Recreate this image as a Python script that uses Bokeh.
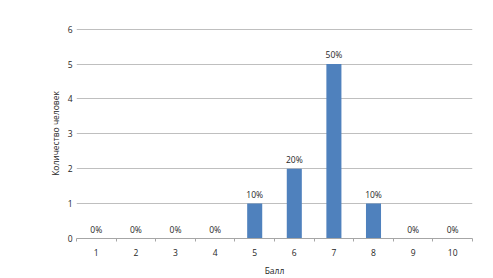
from bokeh.plotting import figure
from bokeh.models import ColumnDataSource, FixedTicker, Range1d
from bokeh.embed import file_html
from bokeh.resources import INLINE
from bokeh.core.properties import value

categories = ["1", "2", "3", "4", "5", "6", "7", "8", "9", "10"]
counts = [0, 0, 0, 0, 1, 2, 5, 1, 0, 0]
percent_labels = ["0%", "0%", "0%", "0%", "10%", "20%", "50%", "10%", "0%", "0%"]
y_ticks = [0, 1, 2, 3, 4, 5, 6]
x_title = "Балл"
y_title = "Количество человек"

xs = [i + 1 for i in range(len(categories))]
src = ColumnDataSource(dict(x=xs, top=counts, lab=percent_labels))

FONT = "Open Sans"
TXT = "#262626"

p = figure(width=493, height=278, output_backend="svg", toolbar_location=None,
           x_range=Range1d(0.5, len(categories) + 0.5), y_range=Range1d(0, 6.02),
           min_border_left=76, min_border_right=21, min_border_top=28, min_border_bottom=39)
p.outline_line_color = None
p.background_fill_color = "white"
p.border_fill_color = "white"

p.vbar(x="x", top="top", width=0.38, bottom=0, source=src,
       fill_color="#4f81bd", line_color=None)
p.text(x="x", y="top", text="lab", source=src, text_align="center", text_baseline="bottom",
       y_offset=-4, text_font=value(FONT), text_font_size="8.5px", text_color=TXT)

# grid
p.xgrid.grid_line_color = None
p.ygrid.grid_line_color = "#bfbfbf"
p.ygrid.grid_line_width = 1
p.yaxis.ticker = FixedTicker(ticks=y_ticks)

# x axis
p.xaxis.ticker = FixedTicker(ticks=xs, minor_ticks=[x - 0.5 for x in xs] + [xs[-1] + 0.5])
p.xaxis.major_label_overrides = {x: c for x, c in zip(xs, categories)}
p.xaxis.major_tick_line_color = None
p.xaxis.major_tick_out = 0
p.xaxis.major_tick_in = 0
p.xaxis.minor_tick_line_color = "#a6a6a6"
p.xaxis.minor_tick_out = 3
p.xaxis.minor_tick_in = 0
p.xaxis.axis_line_color = "#a6a6a6"
p.xaxis.major_label_standoff = 7
p.xaxis.axis_label = x_title
p.xaxis.axis_label_standoff = 6

# y axis
p.yaxis.axis_line_color = None
p.yaxis.major_tick_line_color = None
p.yaxis.major_tick_out = 0
p.yaxis.major_tick_in = 0
p.yaxis.minor_tick_line_color = None
p.yaxis.major_label_standoff = 4
p.yaxis.axis_label = y_title
p.yaxis.axis_label_standoff = 4

for ax in (p.xaxis, p.yaxis):
    ax.major_label_text_font = FONT
    ax.major_label_text_font_size = "8.5px"
    ax.major_label_text_color = TXT
    ax.axis_label_text_font = FONT
    ax.axis_label_text_font_size = "8.5px"
    ax.axis_label_text_font_style = "normal"
    ax.axis_label_text_color = TXT

open("out.html", "w").write(file_html(p, INLINE))
